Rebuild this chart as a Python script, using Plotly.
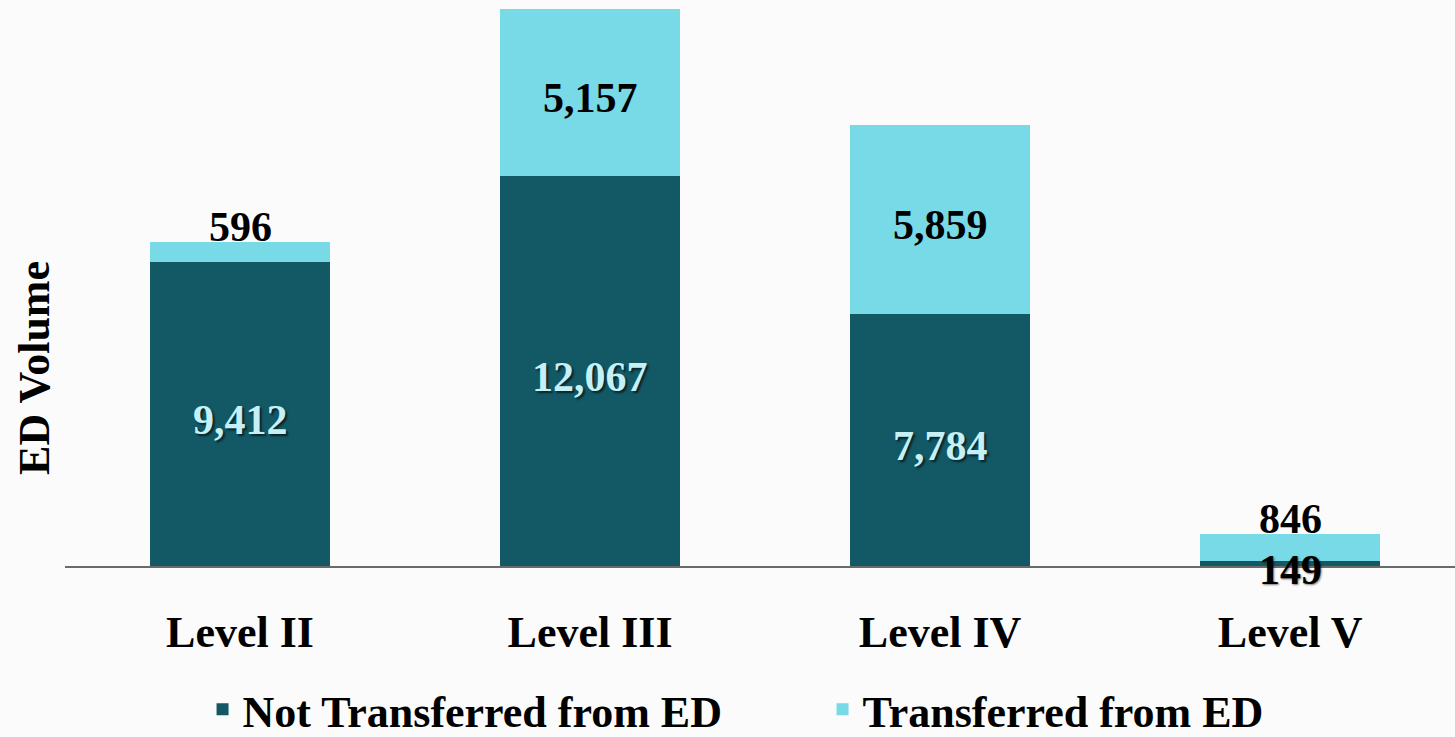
import plotly.graph_objects as go

categories = ["Level II", "Level III", "Level IV", "Level V"]
not_transferred = [9412, 12067, 7784, 149]
transferred = [596, 5157, 5859, 846]
series_names = ["Not Transferred from ED", "Transferred from ED"]

DARK = "#135865"
LIGHT = "#78D9E7"
FONT = "Liberation Serif"
INSIDE_MIN = 2000  # segments smaller than this get an outside label

x_pos = list(range(len(categories)))

def fmt(v):
    return f"{v:,}"

fig = go.Figure()
fig.add_trace(go.Bar(
    x=x_pos, y=not_transferred, name=series_names[0],
    marker=dict(color=DARK, line=dict(width=0)), width=0.514,
    hoverinfo="skip",
))
fig.add_trace(go.Bar(
    x=x_pos, y=transferred, name=series_names[1],
    marker=dict(color=LIGHT, line=dict(width=0)), width=0.514,
    hoverinfo="skip",
))

light_label = dict(family=FONT, size=42, color="#C4F0F6", weight="bold",
                   shadow="2px 2px 2px rgba(0,0,0,0.6)")
dark_label = dict(family=FONT, size=42, color="#000", weight="bold")

for i, (a, b) in enumerate(zip(not_transferred, transferred)):
    # lower segment
    if a >= INSIDE_MIN:
        fig.add_annotation(x=x_pos[i], y=a / 2, text=fmt(a), showarrow=False,
                           yanchor="middle", yshift=-6, font=light_label)
    else:
        fig.add_annotation(x=x_pos[i], y=0, text=fmt(a), showarrow=False,
                           yanchor="middle", yshift=-4,
                           font=dict(dark_label, shadow="1px 1px 2px rgba(0,0,0,0.5)"))
    # upper segment
    if b >= INSIDE_MIN:
        fig.add_annotation(x=x_pos[i], y=a + b / 2, text=fmt(b), showarrow=False,
                           yanchor="middle", yshift=-6, font=dark_label)
    else:
        fig.add_annotation(x=x_pos[i], y=a + b, text=fmt(b), showarrow=False,
                           yanchor="middle", yshift=15, font=dark_label)

# y-axis title
fig.add_annotation(xref="paper", yref="paper", x=0, xshift=-30, y=0.35,
                   text="ED Volume", textangle=-90, showarrow=False,
                   xanchor="center", yanchor="middle",
                   font=dict(family=FONT, size=44, weight="bold", color="#000"))

fig.update_layout(
    barmode="stack",
    width=1455, height=737,
    margin=dict(l=65, r=0, t=0, b=171),
    paper_bgcolor="#FBFBFB", plot_bgcolor="#FBFBFB",
    font=dict(family=FONT, color="#000"),
    showlegend=True,
    legend=dict(orientation="h", x=0.545, xanchor="center",
                yref="container", y=0.037, yanchor="middle",
                traceorder="normal", font=dict(family=FONT, size=44, weight="bold"),
                itemwidth=30, entrywidth=575, bgcolor="rgba(0,0,0,0)"),
    xaxis=dict(range=[-0.5, 3.471], tickvals=x_pos, ticktext=categories,
               showline=True, linecolor="#6A6A6A", linewidth=1.5,
               showgrid=False, zeroline=False,
               ticks="outside", ticklen=26, tickcolor="rgba(0,0,0,0)",
               tickfont=dict(family=FONT, size=44, weight="bold", color="#000")),
    yaxis=dict(range=[0, 17500], showticklabels=False, showgrid=False,
               zeroline=False, showline=False, ticks=""),
)

fig.write_html("out.html", config={"displayModeBar": False},
               post_script="document.body.style.margin='0';document.body.style.overflow='hidden';")
